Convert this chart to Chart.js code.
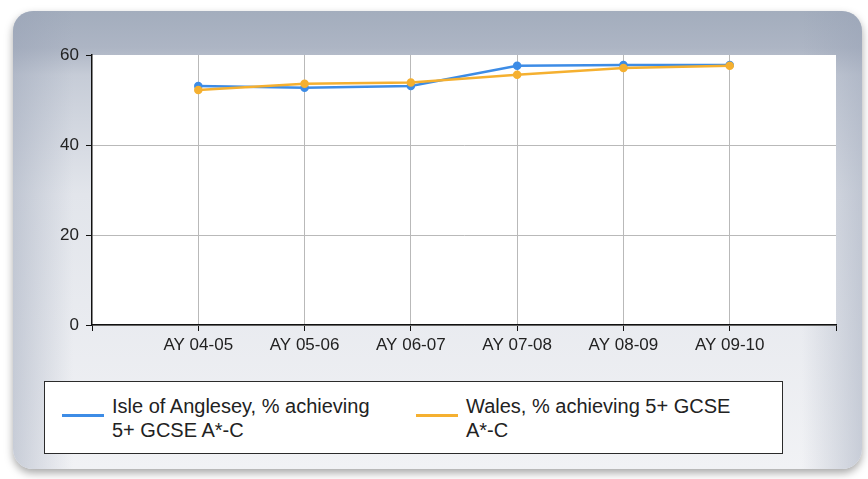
<!DOCTYPE html>
<html>
<head>
<meta charset="utf-8">
<script src="https://cdn.jsdelivr.net/npm/chart.js@4.4.1/dist/chart.umd.min.js"></script>
<style>
    html, body { margin: 0; padding: 0; background: #fff; }
    #wrap { position: relative; width: 868px; height: 479px; }
    #chart { position: absolute; left: 0; top: 0; }
    #legend {
        position: absolute; left: 44px; top: 381px; width: 739px; height: 73px;
        box-sizing: border-box; border: 1.5px solid #2b2b2b; background: #fff;
        font-family: "Liberation Sans", Arial, sans-serif; font-size: 20px; color: #222;
    }
    .item { position: absolute; top: 12px; }
    .swatch { position: absolute; top: 20px; width: 42px; height: 3px; }
    .label { position: absolute; left: 50px; top: 0; width: 285px; line-height: 24px; }
</style>
</head>
<body>
<div id="wrap">
    <canvas id="chart" width="868" height="479"></canvas>
    <div id="legend"></div>
</div>
<script>
// Chart data
const years = ['', 'AY 04-05', 'AY 05-06', 'AY 06-07', 'AY 07-08', 'AY 08-09', 'AY 09-10', ''];
const angleseyValues = [null, 53.1, 52.7, 53.1, 57.6, 57.8, 57.8, null];
const walesValues = [null, 52.2, 53.6, 53.9, 55.6, 57.1, 57.6, null];
const seriesNames = ['Isle of Anglesey, % achieving 5+ GCSE A*-C', 'Wales, % achieving 5+ GCSE A*-C'];
const yTicks = [0, 20, 40, 60];

const BLUE = '#3d8ce6';
const ORANGE = '#f5b030';
const GRID = '#b9b9b9';

function roundRect(ctx, x, y, w, h, r) {
    ctx.beginPath();
    ctx.moveTo(x + r, y);
    ctx.arcTo(x + w, y, x + w, y + h, r);
    ctx.arcTo(x + w, y + h, x, y + h, r);
    ctx.arcTo(x, y + h, x, y, r);
    ctx.arcTo(x, y, x + w, y, r);
    ctx.closePath();
}

// Background panel + white plot area
const panelPlugin = {
    id: 'panel',
    beforeDraw(chart) {
        const ctx = chart.ctx;
        const x = 13, y = 11, w = 849, h = 458;
        ctx.save();
        // drop shadow
        ctx.shadowColor = 'rgba(0,0,0,0.35)';
        ctx.shadowBlur = 8;
        ctx.shadowOffsetY = 4;
        roundRect(ctx, x, y, w, h, 20);
        ctx.fillStyle = '#e8ebf0';
        ctx.fill();
        ctx.shadowColor = 'transparent';

        let g = ctx.createLinearGradient(0, y, 0, y + h);
        g.addColorStop(0, '#a3adbd');
        g.addColorStop(0.08, '#adb5c4');
        g.addColorStop(0.14, '#c6ccd7');
        g.addColorStop(0.4, '#e2e5eb');
        g.addColorStop(1, '#f1f2f5');
        roundRect(ctx, x, y, w, h, 20);
        ctx.fillStyle = g;
        ctx.fill();

        // darker side edges
        ctx.save();
        roundRect(ctx, x, y, w, h, 20);
        ctx.clip();
        g = ctx.createLinearGradient(x, 0, x + 60, 0);
        g.addColorStop(0, 'rgba(150,160,180,0.45)');
        g.addColorStop(1, 'rgba(150,160,180,0)');
        ctx.fillStyle = g;
        ctx.fillRect(x, y, 60, h);
        g = ctx.createLinearGradient(x + w, 0, x + w - 60, 0);
        g.addColorStop(0, 'rgba(150,160,180,0.45)');
        g.addColorStop(1, 'rgba(150,160,180,0)');
        ctx.fillStyle = g;
        ctx.fillRect(x + w - 60, y, 60, h);
        ctx.restore();

        const a = chart.chartArea;
        ctx.fillStyle = '#ffffff';
        ctx.fillRect(a.left, a.top, a.right - a.left, a.bottom - a.top);
        ctx.restore();
    }
};

const ctx = document.getElementById('chart').getContext('2d');
const chart = new Chart(ctx, {
    type: 'line',
    data: {
        labels: years,
        datasets: [{
            label: seriesNames[0],
            data: angleseyValues,
            borderColor: BLUE,
            backgroundColor: BLUE,
            borderWidth: 2.5,
            pointRadius: 3,
            pointHoverRadius: 3,
            tension: 0,
            order: 2
        }, {
            label: seriesNames[1],
            data: walesValues,
            borderColor: ORANGE,
            backgroundColor: ORANGE,
            borderWidth: 2.5,
            pointRadius: 3,
            pointHoverRadius: 3,
            tension: 0,
            order: 1
        }]
    },
    options: {
        responsive: false,
        animation: false,
        layout: { padding: { top: 55, right: 32, left: 0, bottom: 0 } },
        plugins: {
            legend: { display: false },
            tooltip: { enabled: false }
        },
        scales: {
            x: {
                offset: false,
                grid: {
                    color: c => (c.index === 0 || c.index === years.length - 1) ? 'rgba(0,0,0,0)' : GRID,
                    tickColor: '#111',
                    tickLength: 6,
                    lineWidth: 1
                },
                border: { color: '#111', width: 1.5 },
                ticks: {
                    autoSkip: false,
                    maxRotation: 0,
                    padding: 4,
                    color: '#222',
                    font: { family: '"Liberation Sans", Arial, sans-serif', size: 17 }
                },
                afterFit: scale => { scale.height = 154; }
            },
            y: {
                min: 0,
                max: 60,
                afterBuildTicks: scale => { scale.ticks = yTicks.map(v => ({ value: v })); },
                grid: {
                    color: c => (c.tick && c.tick.value === 60) ? 'rgba(0,0,0,0)' : GRID,
                    tickColor: '#111',
                    tickLength: 6
                },
                border: { color: '#111', width: 1.5 },
                ticks: {
                    padding: 7,
                    color: '#222',
                    font: { family: '"Liberation Sans", Arial, sans-serif', size: 17 }
                },
                afterFit: scale => { scale.width = 92; }
            }
        }
    },
    plugins: [panelPlugin]
});

// HTML legend (multi-line labels)
function buildLegend() {
    const legend = document.getElementById('legend');
    const lefts = [17, 371];
    chart.data.datasets.forEach((ds, i) => {
        const item = document.createElement('div');
        item.className = 'item';
        item.style.left = lefts[i] + 'px';
        item.innerHTML = `
            <div class="swatch" style="background:${ds.borderColor}"></div>
            <div class="label">${ds.label}</div>
        `;
        legend.appendChild(item);
    });
}
buildLegend();
</script>
</body>
</html>
